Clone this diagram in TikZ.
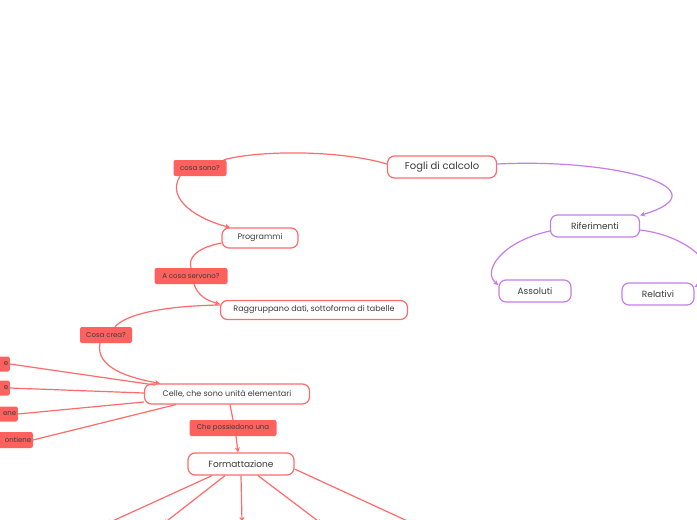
\documentclass[tikz,border=0pt]{standalone}
\usepackage{fontspec}
\setmainfont{Poppins}
\usetikzlibrary{arrows.meta}
\definecolor{lred}{HTML}{FF6B6B}
\definecolor{lfill}{HTML}{FF615E}
\definecolor{lpur}{HTML}{C77DEB}
\definecolor{ltxt}{HTML}{3C3C3C}
\tikzset{
  topic/.style={draw=lred, line width=1.2pt, rounded corners=7pt, fill=white, text=ltxt, inner sep=0pt, minimum height=20pt, font=\fontsize{8}{9}\selectfont},
  ptopic/.style={topic, draw=lpur},
  lbl/.style={fill=lfill, rounded corners=2pt, text=ltxt, inner sep=0pt, minimum height=16pt, font=\fontsize{7}{8}\selectfont},
  rl/.style={draw=lred, line width=1.2pt},
  pl/.style={draw=lpur, line width=1.2pt},
  arr/.style={-{Stealth[length=5pt,width=5pt]}}
}
\begin{document}
\begin{tikzpicture}[x=1pt,y=-1pt]
\useasboundingbox (0,0) rectangle (697,520);
\fill[white] (0,0) rectangle (697,520);
\clip (0,0) rectangle (697,520);
% nodes
\node[topic, minimum width=109pt, minimum height=22pt, font=\fontsize{10}{11}\selectfont] (fogli) at (442,167) {Fogli di calcolo};
\node[lbl, minimum width=53pt] (cosa) at (200,168) {cosa sono?};
\node[topic, minimum width=76pt] (prog) at (260,238) {Programmi};
\node[lbl, minimum width=73pt] (serv) at (191,276) {A cosa servono?};
\node[topic, minimum width=187pt, minimum height=19pt] (ragg) at (314,310) {Raggruppano dati, sottoforma di tabelle};
\node[lbl, minimum width=52pt] (crea) at (106,335) {Cosa crea?};
\node[topic, minimum width=165pt] (celle) at (227,394) {Celle, che sono unità elementari};
\node[lbl, minimum width=87pt] (poss) at (233,428) {Che possiedono una};
\node[topic, minimum width=106pt, minimum height=22pt, font=\fontsize{9}{10}\selectfont] (form) at (241,464) {Formattazione};
\node[ptopic, minimum width=89pt, minimum height=22pt, font=\fontsize{9}{10}\selectfont] (rif) at (595,226) {Riferimenti};
\node[ptopic, minimum width=72pt, minimum height=22pt, font=\fontsize{9}{10}\selectfont] (ass) at (535,291) {Assoluti};
\node[ptopic, minimum width=72pt, minimum height=22pt, font=\fontsize{9}{10}\selectfont] (rel) at (658,294) {Relativi};
% left cut-off labels
\node[lbl, anchor=east, minimum width=80pt, align=right, text width=77pt, minimum height=15pt] (l1) at (10,364) {e};
\node[lbl, anchor=east, minimum width=80pt, align=right, text width=77pt, minimum height=15pt] (l2) at (10,388) {e};
\node[lbl, anchor=east, minimum width=80pt, align=right, text width=77pt, minimum height=15pt] (l3) at (18,414) {ene};
\node[lbl, anchor=east, minimum width=80pt, align=right, text width=77pt, minimum height=16pt] (l4) at (33,440) {ontiene};
% free ends below
\coordinate (b1) at (106,524);
\coordinate (b2) at (163,524);
\coordinate (b3) at (242,522);
\coordinate (b4) at (322,524);
\coordinate (b5) at (414,524);
% connectors
\draw[rl] ([yshift=3pt]fogli.west) .. controls (340,150) and (260,150) .. ([xshift=-3pt]cosa.north east);
\draw[rl,arr] ([xshift=-20pt]cosa.south) .. controls (165,200) and (200,220) .. ([xshift=-30pt]prog.north);
\draw[pl,arr] ([yshift=3pt]fogli.east) .. controls (620,158) and (725,190) .. ([yshift=-1pt]rif.north east);
\draw[pl,arr] ([yshift=-5pt]rif.west) .. controls (500,242) and (482,272) .. ([yshift=6pt]ass.west);
\draw[pl,arr] ([yshift=-4pt]rif.east) .. controls (690,236) and (725,270) .. ([yshift=7pt]rel.east);
\draw[rl] ([yshift=-5pt]prog.west) .. controls (196,248) and (188,258) .. (serv.north);
\draw[rl,arr] ([xshift=3pt]serv.south) .. controls (198,295) and (205,300) .. ([yshift=6pt]ragg.west);
\draw[rl] ([yshift=5pt]ragg.west) .. controls (160,306) and (125,315) .. ([xshift=9pt]crea.north);
\draw[rl,arr] ([xshift=-6pt]crea.south) .. controls (95,368) and (130,378) .. ([xshift=-67pt]celle.north);
\draw[rl] (l1.east) -- ([xshift=11pt,yshift=9pt]celle.west);
\draw[rl] (l2.east) -- ([yshift=1pt]celle.west);
\draw[rl] (l3.east) -- ([yshift=-8pt]celle.west);
\draw[rl] (l4.east) -- ([xshift=32pt]celle.south west);
\draw[rl] ([xshift=3pt]celle.south) -- (poss.north);
\draw[rl,arr] ([xshift=3pt]poss.south) -- ([xshift=-3pt]form.north);
\draw[rl,arr] ([xshift=-29pt]form.south) -- (b1);
\draw[rl,arr] ([xshift=-16pt]form.south) -- (b2);
\draw[rl,arr] (form.south) -- (b3);
\draw[rl,arr] ([xshift=17pt]form.south) -- (b4);
\draw[rl,arr] ([yshift=-5pt]form.east) -- (b5);
\end{tikzpicture}
\end{document}
